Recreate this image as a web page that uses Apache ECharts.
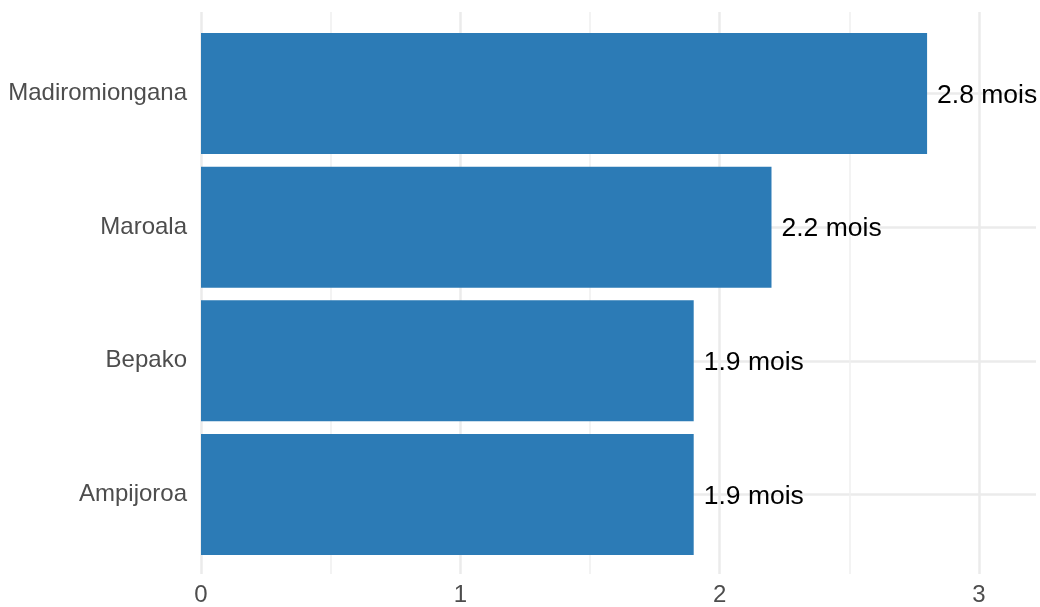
<!DOCTYPE html>
<html>
<head>
<meta charset="utf-8">
<script src="https://cdn.jsdelivr.net/npm/echarts@6/dist/echarts.min.js"></script>
<style>
  html, body { margin: 0; padding: 0; background: #fff; }
  #chart { width: 1040px; height: 607px; }
</style>
</head>
<body>
<div id="chart"></div>
<script>
// données (de bas en haut)
var sites = ['Ampijoroa', 'Bepako', 'Maroala', 'Madiromiongana'];
var durees = [1.9, 1.9, 2.2, 2.8];
var xTicks = [0, 1, 2, 3];

var myChart = echarts.init(document.getElementById('chart'));
var grille = '#ebebeb';
var xMax = 3.22;

var option = {
    backgroundColor: '#ffffff',
    animation: false,
    textStyle: { fontFamily: 'Liberation Sans, Arial, sans-serif' },
    grid: [
        // panneau complet : grille verticale + étiquettes de l'axe x
        { left: 201, right: 4, top: 12, bottom: 32 },
        // barres : centres des catégories sur les bords
        { left: 201, right: 4, top: 93.5, bottom: 112.5 }
    ],
    xAxis: [{
        gridIndex: 0,
        type: 'value',
        min: 0,
        max: xMax,
        interval: 1,
        axisLine: { show: false },
        axisTick: { show: false },
        axisLabel: {
            color: '#4d4d4d',
            fontSize: 24,
            margin: 9,
            showMaxLabel: false,
            formatter: function (v) { return xTicks.indexOf(v) >= 0 ? String(v) : ''; }
        },
        splitLine: {
            show: true,
            lineStyle: { color: [grille, grille, grille, grille, 'rgba(0,0,0,0)'], width: 2.5 }
        },
        minorTick: { show: false, splitNumber: 2 },
        minorSplitLine: { show: true, lineStyle: { color: '#f0f0f0', width: 1.5 } }
    }, {
        gridIndex: 1,
        type: 'value',
        min: 0,
        max: xMax,
        show: false
    }],
    yAxis: [{
        gridIndex: 0,
        type: 'category',
        data: sites,
        show: false
    }, {
        gridIndex: 1,
        type: 'category',
        data: sites,
        boundaryGap: false,
        axisLine: { show: false },
        axisTick: { show: false },
        axisLabel: { color: '#4d4d4d', fontSize: 24, margin: 14, padding: [3, 0, 0, 0] },
        splitLine: { show: true, interval: 0, lineStyle: { color: grille, width: 2.5 } }
    }],
    series: [{
        type: 'bar',
        xAxisIndex: 1,
        yAxisIndex: 1,
        data: durees,
        barWidth: 121,
        itemStyle: { color: '#2c7bb6' },
        label: {
            show: true,
            position: 'right',
            distance: 10,
            offset: [0, 2],
            color: '#000000',
            fontSize: 26.5,
            formatter: function (p) { return p.value + ' mois'; }
        }
    }]
};
myChart.setOption(option);
</script>
</body>
</html>
